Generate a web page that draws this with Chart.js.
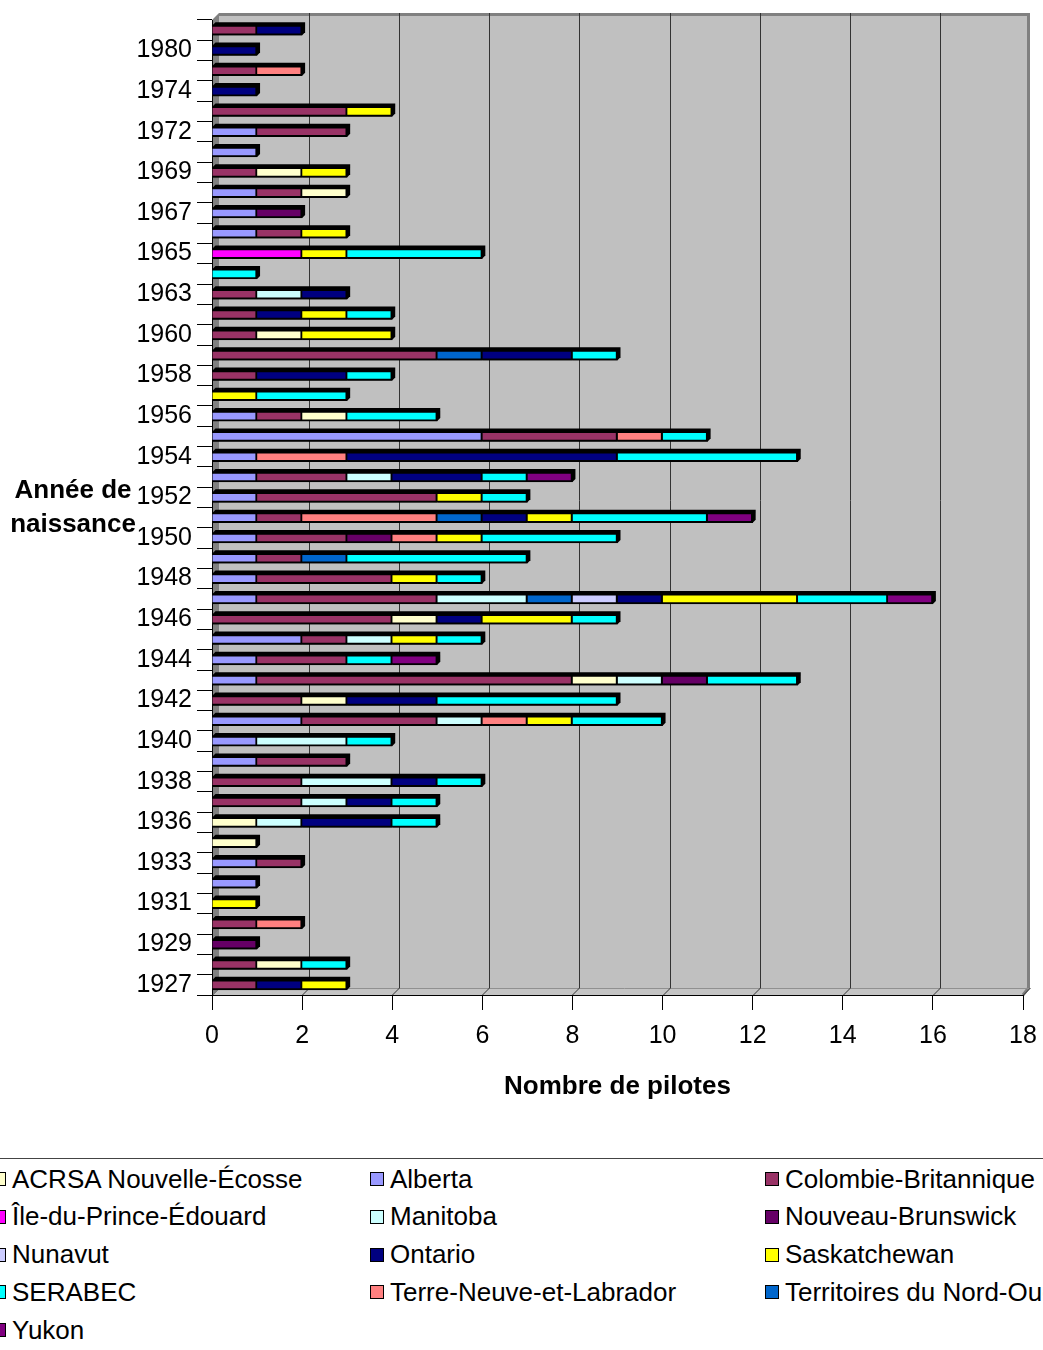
<!DOCTYPE html>
<html lang="fr">
<head>
<meta charset="utf-8">
<title>Nombre de pilotes par année de naissance</title>
<script src="https://cdn.jsdelivr.net/npm/chart.js@4.4.1/dist/chart.umd.min.js"></script>
<style>
  body { margin: 0; background: #fff; font-family: 'Liberation Sans', Arial, sans-serif; }
  #wrap { position: relative; width: 1043px; height: 1350px; overflow: hidden; }
  #ytitle { position: absolute; left: 0; top: 472px; width: 146px; text-align: center;
            font-weight: bold; font-size: 26px; line-height: 34px; color: #000; }
  #legend { position: absolute; left: 0; top: 1158px; width: 1043px; height: 200px; border-top: 1px solid #444; }
  .item { position: absolute; height: 30px; display: flex; align-items: center;
          font-size: 26px; white-space: nowrap; color: #000; }
  .item .box { width: 12px; height: 12px; border: 1px solid #000; margin-right: 6px; flex: none; }
</style>
</head>
<body>
<div id="wrap">
  <canvas id="pilotes" width="1043" height="1102"></canvas>
  <div id="ytitle">Année de<br>naissance</div>
  <div id="legend"></div>
</div>
<script>
// years of birth (bottom to top)
let years = [1927, 1928, 1929, 1930, 1931, 1932, 1933, 1935,
             1936, 1937, 1938, 1939, 1940, 1941, 1942, 1943,
             1944, 1945, 1946, 1947, 1948, 1949, 1950, 1951,
             1952, 1953, 1954, 1955, 1956, 1957, 1958, 1959,
             1960, 1961, 1963, 1964, 1965, 1966, 1967, 1968,
             1969, 1971, 1972, 1973, 1974, 1977, 1980, 1982];

// number of pilots per province, same order as years
let alberta    = [0,0,0,0,0,1,1,0, 0,0,0,1,1,2,0,1, 1,2,0,1,1,1,1,1, 1,1,1,6,1,0,0,0, 0,0,0,0,0,1,1,1, 0,1,1,0,0,0,0,0];
let colombie   = [1,1,0,1,0,0,1,0, 0,2,2,2,0,3,2,7, 2,1,4,4,3,1,2,1, 4,2,0,3,1,0,1,5, 1,1,1,0,0,1,0,1, 1,0,2,3,0,1,0,1];
let acrsa      = [0,1,0,0,0,0,0,1, 1,0,0,0,0,0,1,1, 0,0,1,0,0,0,0,0, 0,0,0,0,1,0,0,0, 1,0,0,0,0,0,0,1, 1,0,0,0,0,0,0,0];
let ipe        = [0,0,0,0,0,0,0,0, 0,0,0,0,0,0,0,0, 0,0,0,0,0,0,0,0, 0,0,0,0,0,0,0,0, 0,0,0,0,2,0,0,0, 0,0,0,0,0,0,0,0];
let manitoba   = [0,0,0,0,0,0,0,0, 1,1,2,0,2,1,0,1, 0,1,0,2,0,0,0,0, 0,1,0,0,0,0,0,0, 0,0,1,0,0,0,0,0, 0,0,0,0,0,0,0,0];
let nbrunswick = [0,0,1,0,0,0,0,0, 0,0,0,0,0,0,0,1, 0,0,0,0,0,0,1,0, 0,0,0,0,0,0,0,0, 0,0,0,0,0,0,1,0, 0,0,0,0,0,0,0,0];
let terreneuve = [0,0,0,1,0,0,0,0, 0,0,0,0,0,1,0,0, 0,0,0,0,0,0,1,3, 0,0,2,1,0,0,0,0, 0,0,0,0,0,0,0,0, 0,0,0,0,0,1,0,0];
let tno        = [0,0,0,0,0,0,0,0, 0,0,0,0,0,0,0,0, 0,0,0,1,0,1,0,1, 0,0,0,0,0,0,0,1, 0,0,0,0,0,0,0,0, 0,0,0,0,0,0,0,0];
let nunavut    = [0,0,0,0,0,0,0,0, 0,0,0,0,0,0,0,0, 0,0,0,1,0,0,0,0, 0,0,0,0,0,0,0,0, 0,0,0,0,0,0,0,0, 0,0,0,0,0,0,0,0];
let ontario    = [1,0,0,0,0,0,0,0, 2,1,1,0,0,0,2,0, 0,0,1,1,0,0,0,1, 0,2,6,0,0,0,2,2, 0,1,1,0,0,0,0,0, 0,0,0,0,1,0,1,1];
let sask       = [1,0,0,0,1,0,0,0, 0,0,0,0,0,1,0,0, 0,1,2,3,1,0,1,1, 1,0,0,0,0,1,0,0, 2,1,0,0,1,1,0,0, 1,0,0,1,0,0,0,0];
let serabec    = [0,1,0,0,0,0,0,0, 1,1,1,0,1,2,4,2, 1,1,1,2,1,4,3,3, 1,1,4,1,2,2,1,1, 0,1,0,1,3,0,0,0, 0,0,0,0,0,0,0,0];
let yukon      = [0,0,0,0,0,0,0,0, 0,0,0,0,0,0,0,0, 1,0,0,1,0,0,0,1, 0,1,0,0,0,0,0,0, 0,0,0,0,0,0,0,0, 0,0,0,0,0,0,0,0];

let xTicksMax = 18;
let xTicksStep = 2;

// stacking order of the segments inside each bar
let series = [
    ['Alberta', alberta, '#9999FF'],
    ['Colombie-Britannique', colombie, '#993366'],
    ['ACRSA Nouvelle-Écosse', acrsa, '#FFFFCC'],
    ['Île-du-Prince-Édouard', ipe, '#FF00FF'],
    ['Manitoba', manitoba, '#CCFFFF'],
    ['Nouveau-Brunswick', nbrunswick, '#660066'],
    ['Terre-Neuve-et-Labrador', terreneuve, '#FF8080'],
    ['Territoires du Nord-Ouest', tno, '#0066CC'],
    ['Nunavut', nunavut, '#CCCCFF'],
    ['Ontario', ontario, '#000080'],
    ['Saskatchewan', sask, '#FFFF00'],
    ['SERABEC', serabec, '#00FFFF'],
    ['Yukon', yukon, '#800080']
];

const DEPTH = 7;    // depth of the 3d walls
const BAR_DEPTH = 3;

// gray back wall, left wall, floor and the vertical gridlines drawn on the back wall
const walls3d = {
    id: 'walls3d',
    beforeDraw(chart) {
        const ctx = chart.ctx;
        const {left, right, top, bottom} = chart.chartArea;
        const x = chart.scales.x;
        const d = DEPTH;
        ctx.save();

        ctx.fillStyle = '#C0C0C0';
        ctx.fillRect(left + d, top - d, right - left, bottom - top);

        ctx.fillStyle = '#808080';
        ctx.beginPath();
        ctx.moveTo(left, top);
        ctx.lineTo(left + d, top - d);
        ctx.lineTo(left + d, bottom - d);
        ctx.lineTo(left, bottom);
        ctx.closePath();
        ctx.fill();

        ctx.fillStyle = '#C4C4C4';
        ctx.beginPath();
        ctx.moveTo(left, bottom);
        ctx.lineTo(left + d, bottom - d);
        ctx.lineTo(right + d, bottom - d);
        ctx.lineTo(right, bottom);
        ctx.closePath();
        ctx.fill();

        // wall frame
        ctx.strokeStyle = '#808080';
        ctx.lineWidth = 3;
        ctx.beginPath();
        ctx.moveTo(left + d, top - d + 1.5);
        ctx.lineTo(right + d - 1.5, top - d + 1.5);
        ctx.lineTo(right + d - 1.5, bottom - d);
        ctx.lineTo(right, bottom);
        ctx.stroke();
        ctx.lineWidth = 1;
        ctx.strokeStyle = '#909090';
        ctx.beginPath();
        ctx.moveTo(left + d, bottom - d + 0.5);
        ctx.lineTo(right + d, bottom - d + 0.5);
        ctx.stroke();

        // gridlines on the wall and their slanted feet on the floor
        ctx.strokeStyle = '#333';
        for (let v = 0; v <= xTicksMax; v += xTicksStep) {
            const px = Math.round(x.getPixelForValue(v)) + 0.5;
            if (v > 0 && v < xTicksMax) {
                ctx.beginPath();
                ctx.moveTo(px + d, top - d);
                ctx.lineTo(px + d, bottom - d);
                ctx.stroke();
            }
            ctx.beginPath();
            ctx.moveTo(px, bottom);
            ctx.lineTo(px + d, bottom - d);
            ctx.stroke();
        }
        ctx.restore();
    },
    // black extrusion behind each stacked bar
    beforeDatasetsDraw(chart) {
        const ctx = chart.ctx;
        const metas = chart.getSortedVisibleDatasetMetas();
        const d = BAR_DEPTH;
        ctx.save();
        ctx.fillStyle = '#000';
        for (let i = 0; i < chart.data.labels.length; i++) {
            let x0 = Infinity, x1 = -Infinity, y = 0, h = 0;
            metas.forEach(m => {
                const v = chart.data.datasets[m.index].data[i];
                if (!v) return;
                const el = m.data[i];
                x0 = Math.min(x0, el.base);
                x1 = Math.max(x1, el.x);
                y = el.y;
                h = el.height;
            });
            if (x1 < x0) continue;
            const t = y - h / 2, b = y + h / 2;
            ctx.beginPath();
            ctx.moveTo(x0, t);
            ctx.lineTo(x0 + d, t - d);
            ctx.lineTo(x1 + d, t - d);
            ctx.lineTo(x1 + d, b - d);
            ctx.lineTo(x1, b);
            ctx.lineTo(x0, b);
            ctx.closePath();
            ctx.fill();
        }
        ctx.restore();
    }
};

Chart.defaults.font.family = "'Liberation Sans', Arial, sans-serif";
Chart.defaults.color = '#000';

let chart = new Chart(document.getElementById('pilotes'), {
    type: 'bar',
    data: {
        labels: years,
        datasets: series.map(s => ({
            label: s[0],
            data: s[1].map(v => v || null),
            backgroundColor: s[2],
            borderColor: '#000',
            borderWidth: 2,
            barThickness: 10
        }))
    },
    options: {
        indexAxis: 'y',
        responsive: false,
        animation: false,
        layout: {
            autoPadding: false,
            padding: {top: 15, right: 20, bottom: 0, left: 0}
        },
        plugins: {
            legend: {display: false},
            tooltip: {enabled: false}
        },
        scales: {
            x: {
                stacked: true,
                min: 0,
                max: xTicksMax,
                ticks: {stepSize: xTicksStep, font: {size: 25}, padding: 11},
                grid: {drawOnChartArea: false, tickLength: 15, color: '#000'},
                border: {color: '#000', width: 1},
                title: {
                    display: true,
                    text: 'Nombre de pilotes',
                    font: {size: 26, weight: 'bold'},
                    padding: {top: 0, bottom: 0}
                },
                afterFit(scale) {
                    scale.height = 107;
                    // the "18" label may hang past the right edge
                    scale.paddingRight = 0;
                }
            },
            y: {
                stacked: true,
                reverse: true,
                ticks: {
                    autoSkip: false,
                    font: {size: 25},
                    padding: 5,
                    callback(value, index) {
                        return index % 2 === 0 ? this.getLabelForValue(value) : '';
                    }
                },
                grid: {drawOnChartArea: false, tickLength: 15, color: '#000', offset: true},
                border: {color: '#000', width: 1},
                afterFit(scale) { scale.width = 212; }
            }
        }
    },
    plugins: [walls3d]
});

// html legend, entries sorted by name in three columns
function buildLegend(chart) {
    const box = document.getElementById('legend');
    const colX = [-8, 370, 765];
    const rowY = 20, rowStep = 37.8;
    const sets = chart.data.datasets;
    const order = sets.map((s, i) => i)
        .sort((a, b) => sets[a].label.localeCompare(sets[b].label, 'fr'));
    order.forEach((di, k) => {
        const item = document.createElement('div');
        item.className = 'item';
        item.style.left = colX[k % 3] + 'px';
        item.style.top = (rowY + Math.floor(k / 3) * rowStep - 15) + 'px';
        const sw = document.createElement('span');
        sw.className = 'box';
        sw.style.background = sets[di].backgroundColor;
        item.appendChild(sw);
        item.appendChild(document.createTextNode(sets[di].label));
        box.appendChild(item);
    });
}
buildLegend(chart);
</script>
</body>
</html>
